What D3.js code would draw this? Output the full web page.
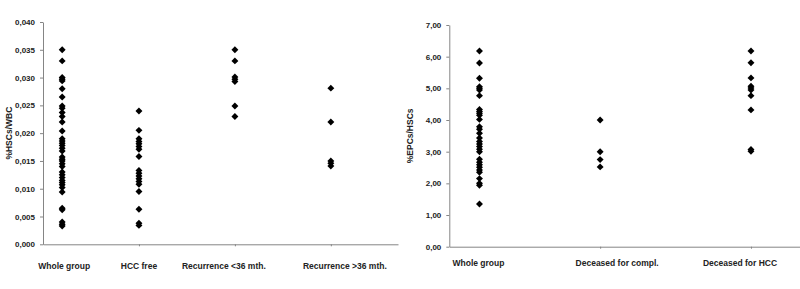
<!DOCTYPE html>
<html>
<head>
<meta charset="utf-8">
<script src="https://cdn.jsdelivr.net/npm/d3@7"></script>
<style>
  body { margin: 0; background: #fff; }
  text { font-family: "Liberation Sans", Arial, sans-serif; font-weight: bold; fill: #222; }
</style>
</head>
<body>
<svg id="chart"></svg>
<script>
/* 左のグラフ: %HSCs/WBC */
const hscCategories = ["Whole group", "HCC free", "Recurrence <36 mth.", "Recurrence >36 mth."];
const hscGroupX = [0.2, 1, 2, 3];
const hscWhole = [0.035, 0.033, 0.030, 0.0297, 0.0294, 0.028, 0.0265, 0.0249, 0.0245, 0.0237, 0.023, 0.022,
  0.0204, 0.019, 0.0186, 0.0182, 0.0178, 0.0173, 0.0168, 0.0157, 0.0153, 0.015, 0.0145, 0.014,
  0.013, 0.0125, 0.012, 0.0115, 0.0111, 0.0107, 0.0102, 0.0094, 0.0065, 0.0062, 0.004, 0.0036, 0.0033];
const hscFree = [0.024, 0.0205, 0.019, 0.0185, 0.0181, 0.0176, 0.0171, 0.0158, 0.0133, 0.0128, 0.0123,
  0.0118, 0.0113, 0.0108, 0.0095, 0.0063, 0.0038, 0.0034];
const hscRecEarly = [0.035, 0.033, 0.0301, 0.0297, 0.0293, 0.0249, 0.023];
const hscRecLate = [0.0281, 0.022, 0.015, 0.0146, 0.0141];
const hscTicks = [0, 0.005, 0.01, 0.015, 0.02, 0.025, 0.03, 0.035, 0.04];

/* 右のグラフ: %EPCs/HSCs */
const epcCategories = ["Whole group", "Deceased for compl.", "Deceased for HCC"];
const epcGroupX = [0.2, 1, 2];
const epcWhole = [6.18, 5.80, 5.32, 5.05, 5.00, 4.95, 4.77, 4.33, 4.27, 4.21, 4.15, 4.02, 3.79, 3.71, 3.58,
  3.43, 3.32, 3.24, 3.16, 3.08, 3.00, 2.76, 2.67, 2.59, 2.51, 2.42, 2.35, 2.15, 2.00, 1.94, 1.35];
const epcCompl = [4.00, 3.00, 2.75, 2.52];
const epcHcc = [6.18, 5.81, 5.33, 5.07, 5.01, 4.95, 4.77, 4.32, 3.07, 3.01];
const epcTicks = [0, 1, 2, 3, 4, 5, 6, 7];

const width = 800, height = 289;
const svg = d3.select("#chart").attr("width", width).attr("height", height);

/* パネル描画 */
function drawPanel(opt) {
  const x = d3.scaleLinear().domain(opt.xDomain).range(opt.xRange);
  const y = d3.scaleLinear().domain(opt.yDomain).range(opt.yRange);
  const g = svg.append("g");

  // y 軸
  const ya = g.append("g")
    .attr("transform", "translate(" + opt.xRange[0] + ",0)")
    .call(d3.axisLeft(y).tickValues(opt.ticks).tickSizeInner(3).tickSizeOuter(0).tickPadding(5)
      .tickFormat(d => opt.fmt(d).replace(".", ",")));
  ya.selectAll("path, line").attr("stroke", "#858585");
  ya.selectAll("text").style("font-size", "8px").attr("fill", "#222");

  // x 軸
  const xa = g.append("g")
    .attr("transform", "translate(0," + opt.yRange[0] + ")")
    .call(d3.axisBottom(x).tickValues(opt.groupX.slice(1)).tickSizeInner(2).tickSizeOuter(0).tickFormat(""));
  xa.selectAll("path, line").attr("stroke", "#858585");

  // カテゴリ名
  g.selectAll(".cat").data(opt.categories).join("text")
    .attr("x", (d, i) => x(opt.groupX[i]) + opt.labelDx[i])
    .attr("y", opt.labelY)
    .attr("text-anchor", "middle")
    .style("font-size", "8.5px")
    .text(d => d);

  // y 軸タイトル
  g.append("text")
    .attr("transform", "translate(" + opt.titleX + "," + ((opt.yRange[0] + opt.yRange[1]) / 2) + ") rotate(-90)")
    .attr("text-anchor", "middle")
    .style("font-size", "8.5px")
    .text(opt.title);

  // 点 (菱形)
  const diamond = d3.symbol().type(d3.symbolSquare).size(24);
  opt.series.forEach((vals, i) => {
    g.selectAll(null).data(vals).join("path")
      .attr("d", diamond)
      .attr("transform", d => "translate(" + x(opt.groupX[i]) + "," + y(d) + ") rotate(45)")
      .attr("fill", "#000");
  });
}

drawPanel({
  xDomain: [0, 3.7], xRange: [43, 398],
  yDomain: [0, 0.04], yRange: [244.3, 22],
  ticks: hscTicks, fmt: d3.format(".3f"),
  groupX: hscGroupX, categories: hscCategories,
  labelDx: [2, 0, -11, 14], labelY: 268.5,
  series: [hscWhole, hscFree, hscRecEarly, hscRecLate],
  title: "%HSCs/WBC", titleX: 12
});

drawPanel({
  xDomain: [0, 2.325], xRange: [449.3, 800],
  yDomain: [0, 7], yRange: [246.7, 25],
  ticks: epcTicks, fmt: d3.format(".2f"),
  groupX: epcGroupX, categories: epcCategories,
  labelDx: [-1, 17, -11], labelY: 265.5,
  series: [epcWhole, epcCompl, epcHcc],
  title: "%EPCs/HSCs", titleX: 413
});
</script>
</body>
</html>
